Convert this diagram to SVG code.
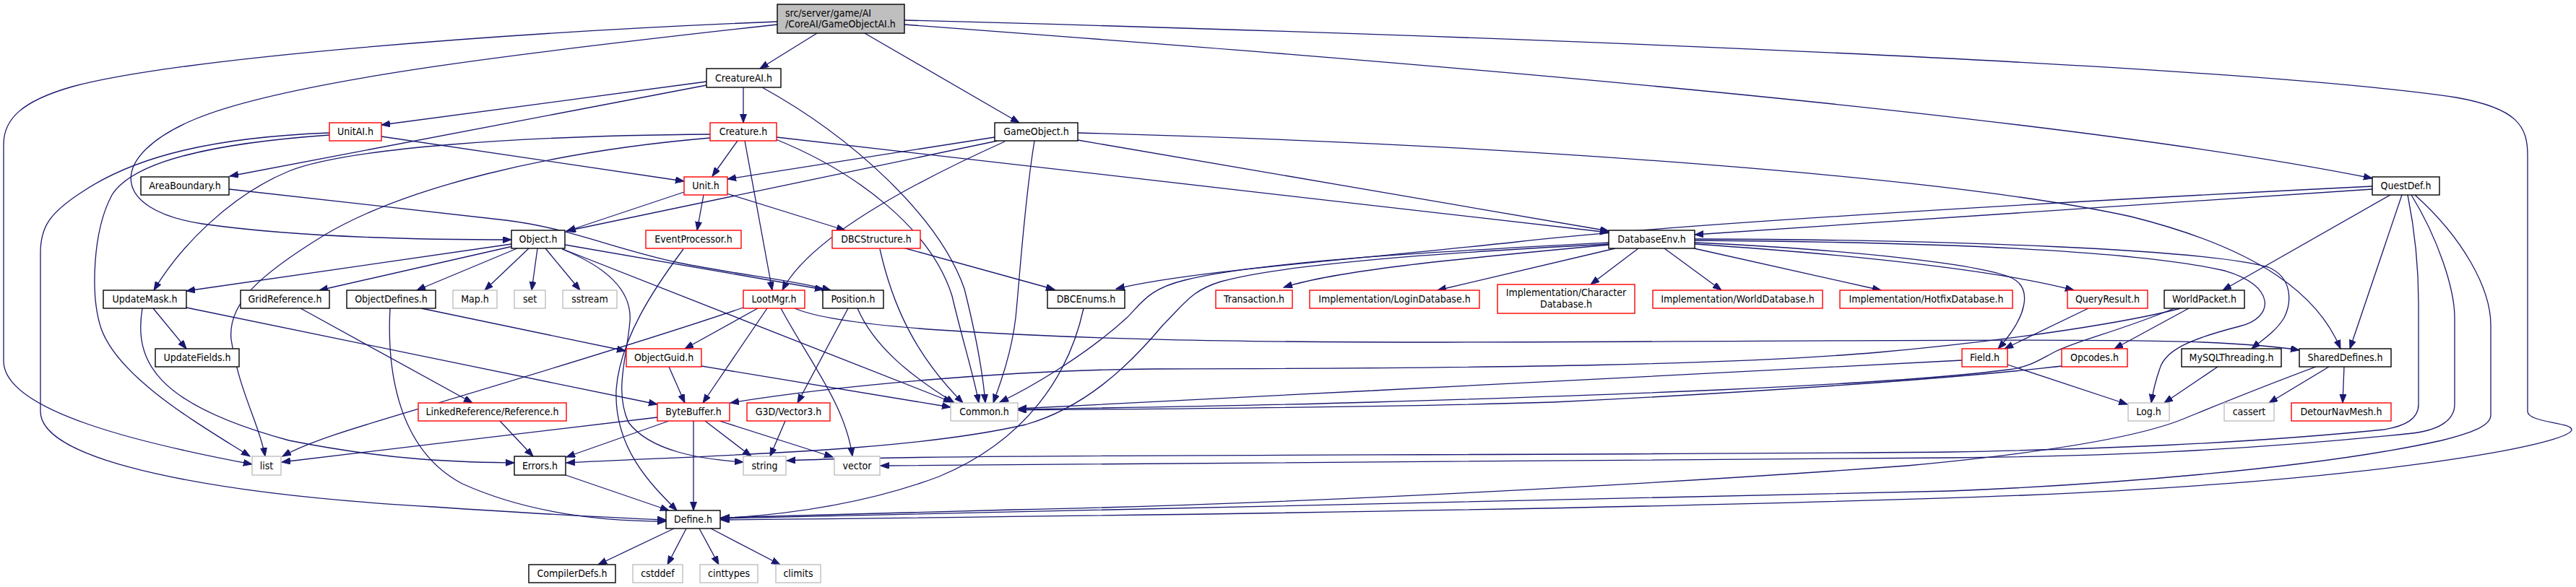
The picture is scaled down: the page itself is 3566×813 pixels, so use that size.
<svg xmlns="http://www.w3.org/2000/svg" width="3566" height="813" viewBox="0 0 3566 813">
<style>
.e{fill:none;stroke:#191970;stroke-width:1.3;marker-end:url(#a)}
rect{fill:#fff;stroke-width:1.4}
.b rect{stroke:#000}
.r rect{stroke:#ff0000}
.g rect{stroke:#bfbfbf}
.root rect{fill:#bfbfbf;stroke:#000}
text{font-family:'DejaVu Sans Condensed','Liberation Sans',Arial,sans-serif;font-size:14px;text-anchor:middle;fill:#000}
</style>
<defs>
<marker id="a" markerUnits="userSpaceOnUse" markerWidth="13" markerHeight="10" refX="12" refY="4.5" orient="auto">
<path d="M0,0 L12,4.5 L0,9 z" fill="#191970" stroke="#191970" stroke-width="1"/>
</marker>
</defs>
<rect x="0" y="0" width="3566" height="813" style="fill:#fff;stroke:none"/>
<g id="edges">
<path class="e" d="M1076,30 C700,45 250,80 100,120 C30,140 5,165 5,200 L5,500 C5,570 200,615 349,643"/>
<path class="e" d="M1076,34 C750,70 400,110 270,165 C150,215 150,290 280,310 C420,330 600,332 708,332"/>
<path class="e" d="M1131,46 L1052,95"/>
<path class="e" d="M1197,46 L1411,170"/>
<path class="e" d="M1252,34 C1800,75 2800,150 3284,247"/>
<path class="e" d="M1252,28 C2100,50 3100,90 3400,135 C3485,150 3499,175 3499,215 L3499,570 C3499,585 3560,585 3560,595 C3560,615 3300,665 2800,686 C2300,705 1500,715 998,720"/>
<path class="e" d="M978,113 L528,173"/>
<path class="e" d="M978,118 L318,244"/>
<path class="e" d="M1029,121 L1029,170"/>
<path class="e" d="M1055,121 C1180,190 1300,300 1335,400 C1350,460 1360,510 1364,558"/>
<path class="e" d="M1021,195 L986,244"/>
<path class="e" d="M1031,195 L1069,402"/>
<path class="e" d="M1074,193 C1190,240 1290,320 1318,410 C1332,470 1348,520 1355,558"/>
<path class="e" d="M1075,190 L2227,322"/>
<path class="e" d="M983,186 C720,188 480,205 400,237 C320,270 250,340 213,402"/>
<path class="e" d="M983,191 C760,210 560,260 450,325 C360,380 315,420 320,470 C330,540 360,590 367,632"/>
<path class="e" d="M1377,190 L1007,248"/>
<path class="e" d="M1381,195 L784,320"/>
<path class="e" d="M1391,196 C1260,255 1120,330 1083,402"/>
<path class="e" d="M1432,195 C1418,280 1412,380 1406,440 C1400,490 1385,530 1375,558"/>
<path class="e" d="M1492,184 C2100,200 2700,245 2950,300 C3130,345 3210,410 3240,483"/>
<path class="e" d="M1492,194 L2227,320"/>
<path class="e" d="M317,262 L700,305 C790,316 850,345 940,364 C1030,382 1100,388 1150,402"/>
<path class="e" d="M528,189 L947,251"/>
<path class="e" d="M456,187 C300,198 185,222 155,270 C128,320 125,410 140,455 C165,525 280,590 346,632"/>
<path class="e" d="M456,184 C300,190 190,215 115,265 C68,295 56,315 56,350 L56,570 C56,640 300,685 600,702 C780,714 870,718 922,720"/>
<path class="e" d="M947,266 L785,320"/>
<path class="e" d="M974,270 L965,319"/>
<path class="e" d="M1006,268 L1170,319"/>
<path class="e" d="M708,338 L258,403"/>
<path class="e" d="M710,341 L442,402"/>
<path class="e" d="M716,344 L577,402"/>
<path class="e" d="M732,344 L671,402"/>
<path class="e" d="M744,344 L736,402"/>
<path class="e" d="M755,344 L803,402"/>
<path class="e" d="M782,339 L1140,401"/>
<path class="e" d="M779,345 L1318,557"/>
<path class="e" d="M778,345 C845,372 875,405 872,445 C868,495 850,540 870,585 C900,625 970,636 1029,640"/>
<path class="e" d="M583,427 L866,486"/>
<path class="e" d="M540,427 C536,500 545,620 640,670 C740,715 850,722 922,722"/>
<path class="e" d="M416,427 L654,558"/>
<path class="e" d="M212,427 L258,483"/>
<path class="e" d="M258,426 L910,560"/>
<path class="e" d="M197,427 C185,500 215,560 400,610 C550,640 650,640 712,641"/>
<path class="e" d="M692,583 L738,632"/>
<path class="e" d="M926,508 L948,558"/>
<path class="e" d="M971,507 L1316,564"/>
<path class="e" d="M1049,427 L948,483"/>
<path class="e" d="M1062,427 L973,558"/>
<path class="e" d="M1081,427 C1120,500 1170,560 1180,632"/>
<path class="e" d="M1029,426 C900,470 700,530 600,560 C500,590 430,610 391,632"/>
<path class="e" d="M1100,427 C1130,440 1200,450 1300,457 C1500,470 1700,474 2000,474 C2500,473 2900,468 3050,474 C3120,477 3160,481 3183,485"/>
<path class="e" d="M1174,427 L1104,558"/>
<path class="e" d="M1187,427 C1210,480 1260,520 1321,558"/>
<path class="e" d="M1087,583 L1066,632"/>
<path class="e" d="M926,583 L784,633"/>
<path class="e" d="M960,583 L960,707"/>
<path class="e" d="M976,583 L1040,632"/>
<path class="e" d="M996,583 L1153,633"/>
<path class="e" d="M910,578 L390,640"/>
<path class="e" d="M783,658 L926,707"/>
<path class="e" d="M933,732 L828,782"/>
<path class="e" d="M950,732 L924,782"/>
<path class="e" d="M968,732 L995,782"/>
<path class="e" d="M984,732 L1080,782"/>
<path class="e" d="M1250,343 L1460,401"/>
<path class="e" d="M1218,345 C1235,420 1265,490 1333,558"/>
<path class="e" d="M1500,427 C1480,520 1420,610 1300,660 C1180,705 1050,715 998,718"/>
<path class="e" d="M946,345 C905,400 858,470 853,540 C850,620 900,670 937,707"/>
<path class="e" d="M2228,339 C2000,360 1850,375 1777,398"/>
<path class="e" d="M2236,344 L1990,402"/>
<path class="e" d="M2268,344 L2202,394"/>
<path class="e" d="M2304,344 L2383,402"/>
<path class="e" d="M2345,344 L2604,402"/>
<path class="e" d="M2346,338 C2600,355 2780,378 2871,402"/>
<path class="e" d="M2346,336 C2550,345 2740,365 2785,385 C2815,400 2805,440 2766,483"/>
<path class="e" d="M2346,333 C2650,335 2950,345 3080,375 C3150,395 3150,440 3100,452 C3030,470 2998,485 2990,510 C2983,530 2980,545 2978,558"/>
<path class="e" d="M2346,331 C2700,332 3050,345 3140,370 C3175,385 3172,420 3162,440 C3150,460 3130,472 3117,483"/>
<path class="e" d="M2227,336 C2050,345 1750,360 1640,388 C1590,400 1580,420 1560,440 C1500,495 1420,540 1384,557"/>
<path class="e" d="M2227,338 C2000,350 1780,365 1690,390 C1650,402 1640,420 1610,450 C1560,510 1500,565 1420,588 C1260,625 1000,630 784,641"/>
<path class="e" d="M3284,262 L2346,325"/>
<path class="e" d="M3284,258 C2800,282 2300,312 2100,335 C1850,362 1650,375 1545,400"/>
<path class="e" d="M3309,270 L3077,402"/>
<path class="e" d="M3325,270 L3253,483"/>
<path class="e" d="M3333,270 C3345,330 3348,380 3348,420 L3348,560 C3348,580 3330,590 3300,595 C3100,615 2900,622 2700,626 C2000,632 1300,628 1089,638"/>
<path class="e" d="M3338,270 C3375,330 3398,400 3398,440 L3398,560 C3398,580 3380,595 3340,600 C3100,625 2900,632 2700,634 C2000,642 1400,644 1219,645"/>
<path class="e" d="M3343,270 C3410,330 3448,400 3448,450 L3448,575 C3448,590 3420,600 3380,610 C3200,650 2900,672 2700,680 C2000,700 1400,710 998,718"/>
<path class="e" d="M3206,508 C3120,540 3060,565 3023,580 C2950,610 2800,630 2640,645 C2300,670 1800,698 1400,706 C1200,712 1050,716 998,717"/>
<path class="e" d="M3224,508 L3141,558"/>
<path class="e" d="M3245,508 L3243,558"/>
<path class="e" d="M3030,427 L2927,483"/>
<path class="e" d="M3019,427 C2950,445 2800,470 2600,488 C2400,505 2100,510 1600,511 C1400,512 1150,535 1011,558"/>
<path class="e" d="M3010,427 C2930,460 2880,470 2845,487 C2820,500 2810,508 2780,512 C2600,535 2200,548 1900,557 C1700,563 1500,565 1409,567"/>
<path class="e" d="M2854,507 C2700,525 2400,545 2150,557 C1900,565 1600,566 1409,568"/>
<path class="e" d="M2716,499 C2400,515 2150,528 1900,541 C1700,552 1500,562 1409,566"/>
<path class="e" d="M2779,505 L2945,560"/>
<path class="e" d="M2891,427 L2775,483"/>
<path class="e" d="M3070,508 L2996,558"/>
</g>
<g id="n_root" class="root"><rect x="1076" y="6" width="176" height="40"/><text x="1087" y="23" style="text-anchor:start">src/server/game/AI</text><text x="1087" y="38" style="text-anchor:start">/CoreAI/GameObjectAI.h</text></g>
<g id="n_creatureai" class="b"><rect x="978" y="95" width="103" height="26"/><text x="1029.5" y="113">CreatureAI.h</text></g>
<g id="n_unitai" class="r"><rect x="456" y="170" width="72" height="25"/><text x="492" y="187">UnitAI.h</text></g>
<g id="n_creature" class="r"><rect x="983" y="170" width="92" height="25"/><text x="1029" y="187">Creature.h</text></g>
<g id="n_gameobject" class="b"><rect x="1377" y="170" width="115" height="25"/><text x="1434.5" y="187">GameObject.h</text></g>
<g id="n_areaboundary" class="b"><rect x="195" y="245" width="122" height="25"/><text x="256" y="262">AreaBoundary.h</text></g>
<g id="n_unit" class="r"><rect x="947" y="245" width="60" height="25"/><text x="977" y="262">Unit.h</text></g>
<g id="n_questdef" class="b"><rect x="3284" y="245" width="93" height="25"/><text x="3330.5" y="262">QuestDef.h</text></g>
<g id="n_object" class="b"><rect x="708" y="319" width="74" height="25"/><text x="745" y="336">Object.h</text></g>
<g id="n_eventprocessor" class="r"><rect x="894" y="319" width="132" height="25"/><text x="960" y="336">EventProcessor.h</text></g>
<g id="n_dbcstructure" class="r"><rect x="1152" y="319" width="122" height="25"/><text x="1213" y="336">DBCStructure.h</text></g>
<g id="n_databaseenv" class="b"><rect x="2227" y="319" width="119" height="25"/><text x="2286.5" y="336">DatabaseEnv.h</text></g>
<g id="n_updatemask" class="b"><rect x="143" y="402" width="115" height="25"/><text x="200.5" y="419">UpdateMask.h</text></g>
<g id="n_gridreference" class="b"><rect x="333" y="402" width="123" height="25"/><text x="394.5" y="419">GridReference.h</text></g>
<g id="n_objectdefines" class="b"><rect x="480" y="402" width="123" height="25"/><text x="541.5" y="419">ObjectDefines.h</text></g>
<g id="n_map" class="g"><rect x="627" y="402" width="61" height="25"/><text x="657.5" y="419">Map.h</text></g>
<g id="n_set" class="g"><rect x="712" y="402" width="43" height="25"/><text x="733.5" y="419">set</text></g>
<g id="n_sstream" class="g"><rect x="779" y="402" width="75" height="25"/><text x="816.5" y="419">sstream</text></g>
<g id="n_lootmgr" class="r"><rect x="1029" y="402" width="85" height="25"/><text x="1071.5" y="419">LootMgr.h</text></g>
<g id="n_position" class="b"><rect x="1139" y="402" width="84" height="25"/><text x="1181" y="419">Position.h</text></g>
<g id="n_dbcenums" class="b"><rect x="1450" y="402" width="107" height="25"/><text x="1503.5" y="419">DBCEnums.h</text></g>
<g id="n_transaction" class="r"><rect x="1683" y="402" width="106" height="25"/><text x="1736" y="419">Transaction.h</text></g>
<g id="n_logindb" class="r"><rect x="1813" y="402" width="235" height="25"/><text x="1930.5" y="419">Implementation/LoginDatabase.h</text></g>
<g id="n_chardb" class="r"><rect x="2073" y="394" width="190" height="40"/><text x="2168" y="410">Implementation/Character</text><text x="2168" y="426">Database.h</text></g>
<g id="n_worlddb" class="r"><rect x="2288" y="402" width="235" height="25"/><text x="2405.5" y="419">Implementation/WorldDatabase.h</text></g>
<g id="n_hotfixdb" class="r"><rect x="2547" y="402" width="239" height="25"/><text x="2666.5" y="419">Implementation/HotfixDatabase.h</text></g>
<g id="n_queryresult" class="r"><rect x="2862" y="402" width="111" height="25"/><text x="2917.5" y="419">QueryResult.h</text></g>
<g id="n_worldpacket" class="b"><rect x="2996" y="402" width="111" height="25"/><text x="3051.5" y="419">WorldPacket.h</text></g>
<g id="n_updatefields" class="b"><rect x="215" y="483" width="116" height="25"/><text x="273" y="500">UpdateFields.h</text></g>
<g id="n_objectguid" class="r"><rect x="867" y="483" width="104" height="25"/><text x="919" y="500">ObjectGuid.h</text></g>
<g id="n_field" class="r"><rect x="2716" y="483" width="63" height="25"/><text x="2747.5" y="500">Field.h</text></g>
<g id="n_opcodes" class="r"><rect x="2854" y="483" width="91" height="25"/><text x="2899.5" y="500">Opcodes.h</text></g>
<g id="n_mysqlthreading" class="b"><rect x="3020" y="483" width="138" height="25"/><text x="3089" y="500">MySQLThreading.h</text></g>
<g id="n_shareddefines" class="b"><rect x="3183" y="483" width="127" height="25"/><text x="3246.5" y="500">SharedDefines.h</text></g>
<g id="n_linkedref" class="r"><rect x="579" y="558" width="205" height="25"/><text x="681.5" y="575">LinkedReference/Reference.h</text></g>
<g id="n_bytebuffer" class="r"><rect x="910" y="558" width="100" height="25"/><text x="960" y="575">ByteBuffer.h</text></g>
<g id="n_vector3" class="r"><rect x="1034" y="558" width="115" height="25"/><text x="1091.5" y="575">G3D/Vector3.h</text></g>
<g id="n_common" class="g"><rect x="1316" y="558" width="93" height="25"/><text x="1362.5" y="575">Common.h</text></g>
<g id="n_log" class="g"><rect x="2946" y="558" width="57" height="25"/><text x="2974.5" y="575">Log.h</text></g>
<g id="n_cassert" class="g"><rect x="3079" y="558" width="69" height="25"/><text x="3113.5" y="575">cassert</text></g>
<g id="n_detour" class="r"><rect x="3172" y="558" width="138" height="25"/><text x="3241" y="575">DetourNavMesh.h</text></g>
<g id="n_list" class="g"><rect x="349" y="632" width="40" height="26"/><text x="369" y="650">list</text></g>
<g id="n_errors" class="b"><rect x="712" y="632" width="71" height="26"/><text x="747.5" y="650">Errors.h</text></g>
<g id="n_string" class="g"><rect x="1029" y="632" width="59" height="26"/><text x="1058.5" y="650">string</text></g>
<g id="n_vector" class="g"><rect x="1155" y="632" width="63" height="26"/><text x="1186.5" y="650">vector</text></g>
<g id="n_define" class="b"><rect x="922" y="707" width="75" height="25"/><text x="959.5" y="724">Define.h</text></g>
<g id="n_compilerdefs" class="b"><rect x="732" y="782" width="120" height="25"/><text x="792" y="799">CompilerDefs.h</text></g>
<g id="n_cstddef" class="g"><rect x="876" y="782" width="69" height="25"/><text x="910.5" y="799">cstddef</text></g>
<g id="n_cinttypes" class="g"><rect x="969" y="782" width="80" height="25"/><text x="1009" y="799">cinttypes</text></g>
<g id="n_climits" class="g"><rect x="1074" y="782" width="62" height="25"/><text x="1105" y="799">climits</text></g>
</svg>
